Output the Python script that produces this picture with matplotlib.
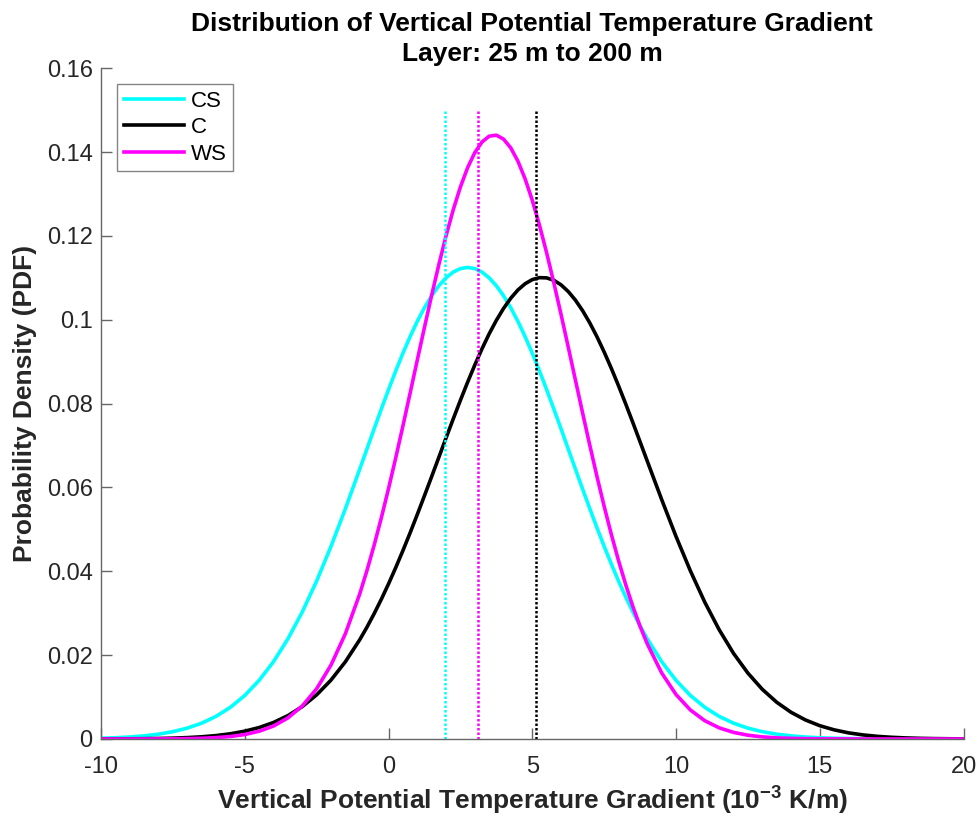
import numpy as np
import matplotlib
matplotlib.use('Agg')
import matplotlib.pyplot as plt

plt.rcParams['font.family'] = ['Liberation Sans', 'DejaVu Sans']
plt.rcParams['mathtext.fontset'] = 'custom'
plt.rcParams['mathtext.rm'] = 'Liberation Sans'
plt.rcParams['mathtext.bf'] = 'Liberation Sans:bold'

# x grid of the read-off curves (10^-3 K/m), finer around the peaks
x_vals = [-10, -9.5, -9, -8.5, -8, -7.5, -7, -6.5, -6, -5.5, -5, -4.5, -4, -3.5, -3, -2.5, -2, -1.5,
          -1, -0.75, -0.5, -0.25, 0, 0.25, 0.5, 0.75, 1, 1.25, 1.5, 1.75, 2, 2.25, 2.5, 2.75,
          3, 3.25, 3.5, 3.75, 4, 4.25, 4.5, 4.75, 5, 5.25, 5.5, 5.75, 6, 6.25, 6.5, 6.75,
          7, 7.25, 7.5, 7.75, 8, 8.25, 8.5, 8.75, 9,
          9.5, 10, 10.5, 11, 11.5, 12, 12.5, 13, 13.5, 14, 14.5, 15, 15.5, 16, 16.5, 17,
          17.5, 18, 18.5, 19, 19.5, 20]

# probability density values
pdf_cs = [0.00018, 0.00029, 0.00047, 0.00074, 0.00115, 0.00174, 0.00259, 0.00377, 0.00539,
          0.00756, 0.01038, 0.01399, 0.01845, 0.02388, 0.03030, 0.03769, 0.04596, 0.05495,
          0.06440, 0.06920, 0.07399, 0.07872, 0.08334, 0.08779, 0.09203, 0.09599, 0.09963,
          0.10289, 0.10574, 0.10812, 0.11001, 0.11139, 0.11222, 0.11250, 0.11222, 0.11139,
          0.11001, 0.10812, 0.10574, 0.10289, 0.09963, 0.09599, 0.09203, 0.08779, 0.08334,
          0.07872, 0.07399, 0.06920, 0.06440, 0.05963, 0.05495, 0.05038, 0.04596, 0.04173,
          0.03769, 0.03388, 0.03030, 0.02697, 0.02388,
          0.01845, 0.01399, 0.01038, 0.00756, 0.00539, 0.00377, 0.00259, 0.00174, 0.00115,
          0.00074, 0.00047, 0.00029, 0.00018, 0.00011, 0.00006, 0.00004, 0.00002, 0.00001,
          0.0, 0.0, 0.0, 0.0]
pdf_c = [0.00001, 0.00002, 0.00004, 0.00007, 0.00012, 0.00020, 0.00033, 0.00052, 0.00081,
         0.00124, 0.00186, 0.00273, 0.00394, 0.00557, 0.00773, 0.01053, 0.01406, 0.01843,
         0.02370, 0.02668, 0.02990, 0.03334, 0.03700, 0.04088, 0.04494, 0.04917, 0.05355,
         0.05804, 0.06260, 0.06720, 0.07181, 0.07635, 0.08080, 0.08510, 0.08921, 0.09307,
         0.09665, 0.09987, 0.10271, 0.10514, 0.10712, 0.10860, 0.10959, 0.11006, 0.11000,
         0.10943, 0.10834, 0.10675, 0.10470, 0.10218, 0.09926, 0.09596, 0.09232, 0.08841,
         0.08426, 0.07992, 0.07545, 0.07088, 0.06628,
         0.05713, 0.04831, 0.04009, 0.03263, 0.02607, 0.02042, 0.01571, 0.01185, 0.00877,
         0.00637, 0.00454, 0.00317, 0.00218, 0.00146, 0.00097, 0.00063, 0.00040, 0.00025,
         0.00015, 0.00009, 0.00005, 0.00003]
pdf_ws = [0.0, 0.0, 0.0, 0.00001, 0.00002, 0.00004, 0.00009, 0.00017, 0.00032, 0.00059,
          0.00106, 0.00185, 0.00309, 0.00502, 0.00788, 0.01198, 0.01765, 0.02513,
          0.03464, 0.04019, 0.04624, 0.05277, 0.05973, 0.06705, 0.07467, 0.08249, 0.09038,
          0.09820, 0.10586, 0.11317, 0.12001, 0.12623, 0.13169, 0.13628, 0.13988, 0.14241,
          0.14381, 0.14405, 0.14311, 0.14103, 0.13785, 0.13364, 0.12851, 0.12257, 0.11597,
          0.10882, 0.10130, 0.09352, 0.08564, 0.07778, 0.07008, 0.06262, 0.05551, 0.04880,
          0.04255, 0.03681, 0.03157, 0.02687, 0.02268,
          0.01577, 0.01060, 0.00691, 0.00436, 0.00266, 0.00157, 0.00090, 0.00050, 0.00027,
          0.00014, 0.00007, 0.00003, 0.00002, 0.00001, 0.0, 0.0, 0.0, 0.0, 0.0, 0.0, 0.0, 0.0]

labels = ['CS', 'C', 'WS']
colors = ['#00ffff', '#000000', '#ff00ff']
# means (dotted lines) and their height
means = [1.95, 5.14, 3.11]
mean_top = 0.15

x_ticks = [-10, -5, 0, 5, 10, 15, 20]
y_ticks = [0, 0.02, 0.04, 0.06, 0.08, 0.1, 0.12, 0.14, 0.16]
y_ticklabels = ['0', '0.02', '0.04', '0.06', '0.08', '0.1', '0.12', '0.14', '0.16']

fig = plt.figure(figsize=(9.79, 8.17), dpi=100)
ax = fig.add_axes([0.1032, 0.0955, 0.8810, 0.8209])

for pdf, lab, col in zip([pdf_cs, pdf_c, pdf_ws], labels, colors):
    ax.plot(x_vals, pdf, color=col, lw=2.6, label=lab, solid_joinstyle='round')
for m, col in zip(means, colors):
    ax.vlines(m, 0, mean_top, colors=col, linestyles=(0, (1.0, 0.8)), lw=1.8)

ax.set_xlim(-10, 20)
ax.set_ylim(0, 0.16)
ax.set_xticks(x_ticks)
ax.set_xticklabels([str(t) for t in x_ticks])
ax.set_yticks(y_ticks)
ax.set_yticklabels(y_ticklabels)
ax.spines['top'].set_visible(False)
ax.spines['right'].set_visible(False)
for s in ['left', 'bottom']:
    ax.spines[s].set_color('#666666')
    ax.spines[s].set_linewidth(1.0)
ax.tick_params(direction='in', length=8, width=1.0, color='#666666', labelsize=17,
               labelcolor='#262626')
ax.tick_params(axis='y', pad=6)
ax.tick_params(axis='x', pad=12)

ax.set_xlabel(r'Vertical Potential Temperature Gradient (10$^{\mathbf{-3}}$ K/m)', fontsize=19,
              fontweight='bold', color='#262626', labelpad=4)
ax.set_ylabel('Probability Density (PDF)', fontsize=19, fontweight='bold', color='#262626',
              labelpad=7)
ax.set_title('Distribution of Vertical Potential Temperature Gradient\nLayer: 25 m to 200 m',
             fontsize=19, fontweight='bold', linespacing=1.35, pad=5)

leg = ax.legend(loc='upper left', bbox_to_anchor=(0.0186, 0.9766), fontsize=16,
                frameon=True, fancybox=False, edgecolor='#666666', handlelength=2.7,
                handletextpad=0.3, borderpad=0.3, labelspacing=0.25, borderaxespad=0)
leg.get_frame().set_linewidth(1.0)

fig.savefig('out.png', dpi=100)
